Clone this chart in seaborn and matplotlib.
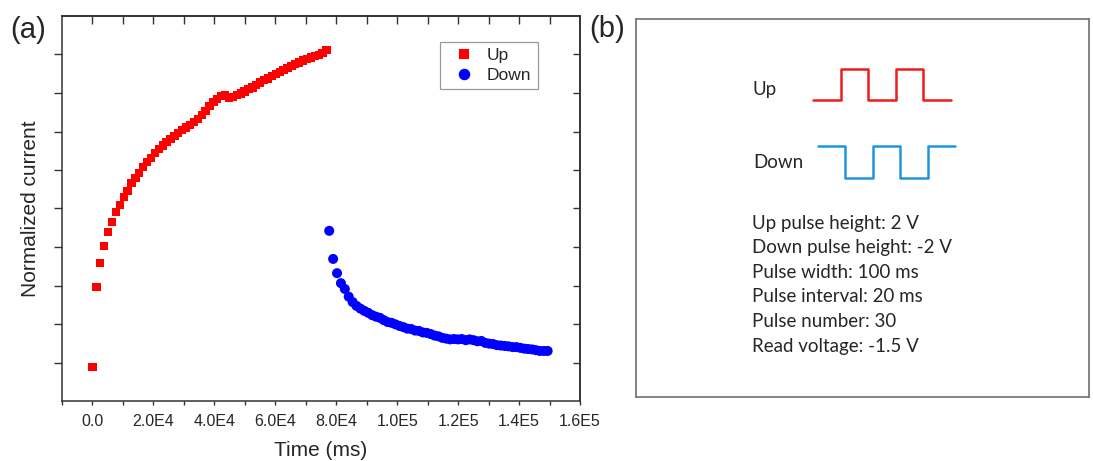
import matplotlib
matplotlib.use("Agg")
import matplotlib.pyplot as plt
import pandas as pd
import seaborn as sns

# ── Data ──────────────────────────────────────────────────────────────────────
up_time = [0, 1280, 2560, 3840, 5120, 6400, 7680, 8960, 10240, 11520,
           12800, 14080, 15360, 16640, 17920, 19200, 20480, 21760, 23040, 24320,
           25600, 26880, 28160, 29440, 30720, 32000, 33280, 34560, 35840, 37120,
           38400, 39680, 40960, 42240, 43520, 44800, 46080, 47360, 48640, 49920,
           51200, 52480, 53760, 55040, 56320, 57600, 58880, 60160, 61440, 62720,
           64000, 65280, 66560, 67840, 69120, 70400, 71680, 72960, 74240, 75520,
           76800]
up_current = [0.088, 0.296, 0.358, 0.403, 0.439, 0.465, 0.491, 0.509, 0.530, 0.545,
              0.566, 0.579, 0.592, 0.608, 0.621, 0.632, 0.644, 0.655, 0.664, 0.673,
              0.681, 0.688, 0.696, 0.704, 0.710, 0.717, 0.725, 0.732, 0.743, 0.753,
              0.766, 0.777, 0.784, 0.792, 0.795, 0.787, 0.790, 0.794, 0.799, 0.804,
              0.810, 0.814, 0.821, 0.827, 0.834, 0.838, 0.844, 0.849, 0.855, 0.860,
              0.865, 0.870, 0.875, 0.879, 0.884, 0.888, 0.892, 0.896, 0.899, 0.904,
              0.912]
down_time = [77700, 78980, 80260, 81540, 82820, 84100, 85380, 86660, 87940, 89220,
             90500, 91780, 93060, 94340, 95620, 96900, 98180, 99460, 100740, 102020,
             103300, 104580, 105860, 107140, 108420, 109700, 110980, 112260, 113540, 114820,
             116100, 117380, 118660, 119940, 121220, 122500, 123780, 125060, 126340, 127620,
             128900, 130180, 131460, 132740, 134020, 135300, 136580, 137860, 139140, 140420,
             141700, 142980, 144260, 145540, 146820, 148100, 149380]
down_current = [0.442, 0.369, 0.332, 0.306, 0.291, 0.271, 0.257, 0.247, 0.240, 0.234,
                0.229, 0.223, 0.219, 0.216, 0.210, 0.205, 0.203, 0.199, 0.195, 0.192,
                0.188, 0.187, 0.183, 0.182, 0.178, 0.177, 0.174, 0.170, 0.168, 0.164,
                0.162, 0.160, 0.161, 0.160, 0.161, 0.158, 0.160, 0.158, 0.155, 0.156,
                0.151, 0.149, 0.148, 0.145, 0.144, 0.143, 0.142, 0.140, 0.140, 0.138,
                0.136, 0.135, 0.134, 0.132, 0.130, 0.130, 0.130]

x_ticks = [0, 20000, 40000, 60000, 80000, 100000, 120000, 140000, 160000]
x_tick_labels = ["0.0", "2.0E4", "4.0E4", "6.0E4", "8.0E4", "1.0E5", "1.2E5", "1.4E5", "1.6E5"]
x_minor = [-10000, 10000, 30000, 50000, 70000, 90000, 110000, 130000, 150000]
x_top = [0, 10000, 20000, 30000, 40000, 50000, 60000, 70000, 80000, 90000,
         100000, 110000, 120000, 130000, 140000, 150000]
y_ticks = [0.1, 0.2, 0.3, 0.4, 0.5, 0.6, 0.7, 0.8, 0.9]

# sketch of the pulse trains in panel (b): one level per time slot
wave_slots = [0, 1, 2, 3, 4, 5]
up_wave = [0, 1, 0, 1, 0, 0]
down_wave = [1, 0, 1, 0, 1, 1]

pulse_info = ["Up pulse height: 2 V",
              "Down pulse height: -2 V",
              "Pulse width: 100 ms",
              "Pulse interval: 20 ms",
              "Pulse number: 30",
              "Read voltage: -1.5 V"]

W, H = 1093, 461


def px_rect(x0, y0, x1, y1):
    # pixel box (top-left origin) -> figure fraction rect
    return [x0 / W, 1 - y1 / H, (x1 - x0) / W, (y1 - y0) / H]


def px_pt(x, y):
    return x / W, 1 - y / H


sns.set_theme(style="white")
plt.rcParams['font.family'] = ['Liberation Sans', 'DejaVu Sans']
spine_col = "#333333"

fig = plt.figure(figsize=(W / 100, H / 100), dpi=100)

# ── (a) scatter of the current response ───────────────────────────────────────
ax = fig.add_axes(px_rect(62, 16, 580, 401))
df = pd.DataFrame({
    "time": up_time + down_time,
    "current": up_current + down_current,
    "sweep": ["Up"] * len(up_time) + ["Down"] * len(down_time),
})
sns.scatterplot(data=df, x="time", y="current", hue="sweep", style="sweep", size="sweep",
                palette={"Up": "#ff0000", "Down": "#0000ff"},
                markers={"Up": "s", "Down": "o"},
                sizes={"Up": 36, "Down": 52},
                linewidth=0, ax=ax)

ax.set_xlim(-10000, 160000)
ax.set_ylim(0, 1)
ax.set_xticks(x_ticks, x_tick_labels, fontsize=11.5)
ax.set_xticks(x_minor, minor=True)
ax.set_yticks(y_ticks, [""] * len(y_ticks))
ax.tick_params(axis="x", which="both", direction="out", length=3, width=1,
               color=spine_col, bottom=True, pad=6)
ax.tick_params(axis="y", which="both", direction="out", length=6, width=1,
               color=spine_col, left=True)
for sp in ax.spines.values():
    sp.set_color(spine_col)
    sp.set_linewidth(1.1)

# mirrored ticks on top and right, pointing inwards
top = ax.secondary_xaxis("top")
top.set_xticks(x_top, [""] * len(x_top))
top.tick_params(direction="in", length=5.5, width=1, color=spine_col)
top.spines["top"].set_color(spine_col)
right = ax.secondary_yaxis("right")
right.set_yticks(y_ticks, [""] * len(y_ticks))
right.tick_params(direction="in", length=5, width=1, color=spine_col)
right.spines["right"].set_color(spine_col)

ax.set_xlabel("Time (ms)", fontsize=15)
ax.set_ylabel("Normalized current", fontsize=15)
ax.xaxis.set_label_coords(0.5, -0.105)
ax.yaxis.set_label_coords(-0.043, 0.5)

handles, labels = ax.get_legend_handles_labels()
leg = ax.legend(handles, labels, loc="upper left", bbox_to_anchor=(0.73, 0.933),
                borderaxespad=0, fontsize=12.5, frameon=True, fancybox=False,
                handletextpad=0.35, borderpad=0.35, labelspacing=0.3, markerscale=1.15)
leg.get_frame().set_edgecolor("#808080")
leg.get_frame().set_linewidth(0.9)

fig.text(*px_pt(10, 30), "(a)", fontsize=21, ha="left", va="center")
fig.text(*px_pt(589, 29), "(b)", fontsize=21, ha="left", va="center")

# ── (b) pulse scheme ──────────────────────────────────────────────────────────
panel = fig.add_axes(px_rect(636, 19, 1089, 397))
panel.set_xticks([])
panel.set_yticks([])
for sp in panel.spines.values():
    sp.set_color("#7a7a7a")
    sp.set_linewidth(1.3)

txt_font = ["Lato", "DejaVu Sans"]
fig.text(*px_pt(753, 90), "Up", fontsize=13.5, family=txt_font, ha="left", va="center")
fig.text(*px_pt(753, 163), "Down", fontsize=13.5, family=txt_font, ha="left", va="center")
for k, line in enumerate(pulse_info):
    fig.text(*px_pt(752, 223.5 + 24.5 * k), line, fontsize=13.5, family=txt_font,
             ha="left", va="center")

up_ax = fig.add_axes(px_rect(813, 69, 951, 100))
sns.lineplot(x=wave_slots, y=up_wave, drawstyle="steps-post", color="#ee1c1c",
             linewidth=1.8, ax=up_ax)
down_ax = fig.add_axes(px_rect(818, 146, 955, 178))
sns.lineplot(x=wave_slots, y=down_wave, drawstyle="steps-post", color="#1e96dc",
             linewidth=1.8, ax=down_ax)
for wax in (up_ax, down_ax):
    wax.set_xlim(0, 5)
    wax.set_ylim(0, 1)
    wax.axis("off")
    for ln in wax.get_lines():
        ln.set_clip_on(False)

fig.savefig("out.png", dpi=100)
